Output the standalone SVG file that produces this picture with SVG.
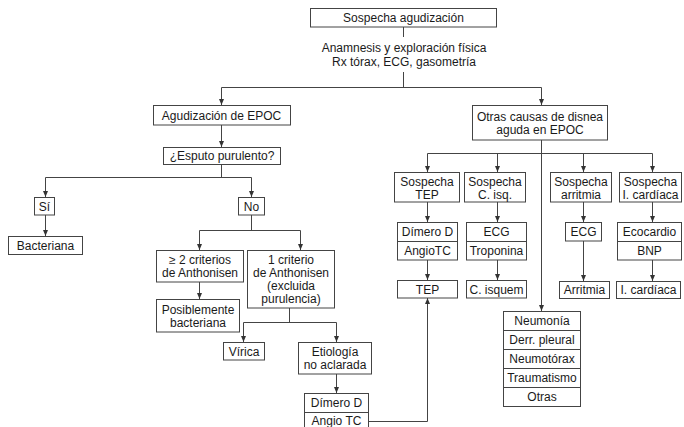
<svg xmlns="http://www.w3.org/2000/svg" width="684" height="427" viewBox="0 0 684 427">
  <defs>
    <marker id="arr" markerUnits="userSpaceOnUse" markerWidth="6" markerHeight="5" refX="6" refY="2.5" orient="auto">
      <path d="M0,0 L6,2.5 L0,5 z" fill="#333"/>
    </marker>
    <style>
      .box { fill: #fff; stroke: #444; stroke-width: 1; }
      .div { stroke: #444; stroke-width: 1; fill: none; }
      .ln { stroke: #444; stroke-width: 1; fill: none; }
      .ar { stroke: #444; stroke-width: 1; fill: none; marker-end: url(#arr); }
      text { font-family: "Liberation Sans", Arial, sans-serif; font-size: 12px; fill: #1a1a1a; text-anchor: middle; }
    </style>
  </defs>
  <rect width="684" height="427" fill="#fff"/>

  <!-- connectors -->
  <g id="connectors">
    <path class="ln" d="M403.5,27 V37 M403.5,72 V87.5 M221.5,87.5 H541.5"/>
    <path class="ar" d="M221.5,87.5 V105"/>
    <path class="ar" d="M541.5,87.5 V105"/>
    <!-- left branch -->
    <path class="ar" d="M221.5,125 V147"/>
    <path class="ln" d="M221.5,164 V177.5 M45.5,177.5 H251.5"/>
    <path class="ar" d="M45.5,177.5 V197"/>
    <path class="ar" d="M251.5,177.5 V197"/>
    <path class="ar" d="M45.5,215 V236"/>
    <path class="ln" d="M251.5,215 V230.5 M199.5,230.5 H300.5"/>
    <path class="ar" d="M199.5,230.5 V250"/>
    <path class="ar" d="M300.5,230.5 V250"/>
    <path class="ar" d="M199.5,282 V299"/>
    <path class="ln" d="M289.5,308 V322.5 M243.5,322.5 H336.5"/>
    <path class="ar" d="M243.5,322.5 V342"/>
    <path class="ar" d="M336.5,322.5 V342"/>
    <path class="ar" d="M336.5,374 V393"/>
    <path class="ar" d="M368,421.5 H427.5 V298"/>
    <!-- right branch -->
    <path class="ar" d="M541.5,140 V311"/>
    <path class="ln" d="M427.5,153.5 H652.5"/>
    <path class="ar" d="M427.5,153.5 V172"/>
    <path class="ar" d="M497.5,153.5 V172"/>
    <path class="ar" d="M583.5,153.5 V172"/>
    <path class="ar" d="M652.5,153.5 V172"/>
    <path class="ar" d="M427.5,202 V222"/>
    <path class="ar" d="M497.5,202 V222"/>
    <path class="ar" d="M583.5,202 V222"/>
    <path class="ar" d="M652.5,202 V222"/>
    <path class="ar" d="M427.5,260 V280"/>
    <path class="ar" d="M497.5,260 V280"/>
    <path class="ar" d="M583.5,241 V281"/>
    <path class="ar" d="M652.5,260 V281"/>
  </g>

  <g id="n-sospecha">
    <rect class="box" x="310.5" y="8.5" width="186" height="18.5"/>
    <text x="403.5" y="22">Sospecha agudización</text>
  </g>
  <g id="n-anamnesis">
    <text x="404" y="52">Anamnesis y exploración física</text>
    <text x="404" y="66">Rx tórax, ECG, gasometría</text>
  </g>
  <g id="n-agudizacion">
    <rect class="box" x="153.5" y="105.5" width="137" height="19.5"/>
    <text x="221.5" y="119.5">Agudización de EPOC</text>
  </g>
  <g id="n-otras">
    <rect class="box" x="472.5" y="105.5" width="135" height="34.5"/>
    <text x="540" y="120.5">Otras causas de disnea</text>
    <text x="540" y="133.5">aguda en EPOC</text>
  </g>
  <g id="n-esputo">
    <rect class="box" x="163.5" y="147.5" width="117" height="17"/>
    <text x="222" y="160">¿Esputo purulento?</text>
  </g>
  <g id="n-si">
    <rect class="box" x="34.5" y="197.5" width="20" height="17.5"/>
    <text x="44.5" y="210.5">Sí</text>
  </g>
  <g id="n-no">
    <rect class="box" x="238.5" y="197.5" width="26" height="17.5"/>
    <text x="251.5" y="210.5">No</text>
  </g>
  <g id="n-bacteriana">
    <rect class="box" x="8.5" y="236.5" width="74" height="18"/>
    <text x="45.5" y="249.5">Bacteriana</text>
  </g>
  <g id="n-dos-criterios">
    <rect class="box" x="156.5" y="250.5" width="87" height="31.5"/>
    <text x="200" y="263.5">≥ 2 criterios</text>
    <text x="200" y="276.5">de Anthonisen</text>
  </g>
  <g id="n-un-criterio">
    <rect class="box" x="247.5" y="250.5" width="87" height="57.5"/>
    <text x="291" y="263.5">1 criterio</text>
    <text x="291" y="276.5">de Anthonisen</text>
    <text x="291" y="290">(excluida</text>
    <text x="291" y="303">purulencia)</text>
  </g>
  <g id="n-posiblemente">
    <rect class="box" x="156.5" y="299.5" width="83" height="32.5"/>
    <text x="198" y="313.5">Posiblemente</text>
    <text x="198" y="326.5">bacteriana</text>
  </g>
  <g id="n-virica">
    <rect class="box" x="223.5" y="342.5" width="41" height="17.5"/>
    <text x="244" y="355.5">Vírica</text>
  </g>
  <g id="n-etiologia">
    <rect class="box" x="298.5" y="342.5" width="73" height="31.5"/>
    <text x="335" y="355.5">Etiología</text>
    <text x="335" y="368.5">no aclarada</text>
  </g>
  <g id="n-dimero-angio">
    <rect class="box" x="304.5" y="393.5" width="64" height="38"/>
    <line class="div" x1="304.5" y1="412.5" x2="368.5" y2="412.5"/>
    <text x="336.5" y="406.5">Dímero D</text>
    <text x="336.5" y="425">Angio TC</text>
  </g>

  <g id="n-sosp-tep">
    <rect class="box" x="394.5" y="172.5" width="65" height="29.5"/>
    <text x="427" y="185.5">Sospecha</text>
    <text x="427" y="198.5">TEP</text>
  </g>
  <g id="n-sosp-cisq">
    <rect class="box" x="464.5" y="172.5" width="61" height="29.5"/>
    <text x="495" y="185.5">Sospecha</text>
    <text x="495" y="198.5">C. isq.</text>
  </g>
  <g id="n-sosp-arritmia">
    <rect class="box" x="550.5" y="172.5" width="61" height="29.5"/>
    <text x="581" y="185.5">Sospecha</text>
    <text x="581" y="198.5">arritmia</text>
  </g>
  <g id="n-sosp-icard">
    <rect class="box" x="619.5" y="172.5" width="62" height="29.5"/>
    <text x="650.5" y="185.5">Sospecha</text>
    <text x="650.5" y="198.5">I. cardíaca</text>
  </g>
  <g id="n-dimero-angiotc">
    <rect class="box" x="397.5" y="222.5" width="60" height="37.5"/>
    <line class="div" x1="397.5" y1="241.5" x2="457.5" y2="241.5"/>
    <text x="427.5" y="236">Dímero D</text>
    <text x="427.5" y="255">AngioTC</text>
  </g>
  <g id="n-ecg-troponina">
    <rect class="box" x="466.5" y="222.5" width="60" height="37.5"/>
    <line class="div" x1="466.5" y1="241.5" x2="526.5" y2="241.5"/>
    <text x="496.5" y="236">ECG</text>
    <text x="496.5" y="255">Troponina</text>
  </g>
  <g id="n-ecg">
    <rect class="box" x="565.5" y="222.5" width="36" height="18.5"/>
    <text x="583.5" y="236">ECG</text>
  </g>
  <g id="n-ecocardio-bnp">
    <rect class="box" x="617.5" y="222.5" width="64" height="37.5"/>
    <line class="div" x1="617.5" y1="241.5" x2="681.5" y2="241.5"/>
    <text x="649.5" y="236">Ecocardio</text>
    <text x="649.5" y="255">BNP</text>
  </g>
  <g id="n-tep">
    <rect class="box" x="397.5" y="280.5" width="60" height="17.5"/>
    <text x="427.5" y="293.5">TEP</text>
  </g>
  <g id="n-cisquem">
    <rect class="box" x="466.5" y="280.5" width="60" height="17.5"/>
    <text x="496.5" y="293.5">C. isquem</text>
  </g>
  <g id="n-arritmia">
    <rect class="box" x="559.5" y="281.5" width="50" height="17"/>
    <text x="584.5" y="294">Arritmia</text>
  </g>
  <g id="n-icardiaca">
    <rect class="box" x="616.5" y="281.5" width="64" height="17"/>
    <text x="648.5" y="294">I. cardíaca</text>
  </g>
  <g id="n-otras-lista">
    <rect class="box" x="503.5" y="311.5" width="77" height="95"/>
    <path class="div" d="M503.5,330.5 H580.5 M503.5,349.5 H580.5 M503.5,368.5 H580.5 M503.5,387.5 H580.5"/>
    <text x="542" y="325">Neumonía</text>
    <text x="542" y="344">Derr. pleural</text>
    <text x="542" y="363">Neumotórax</text>
    <text x="542" y="382">Traumatismo</text>
    <text x="542" y="401">Otras</text>
  </g>
</svg>
